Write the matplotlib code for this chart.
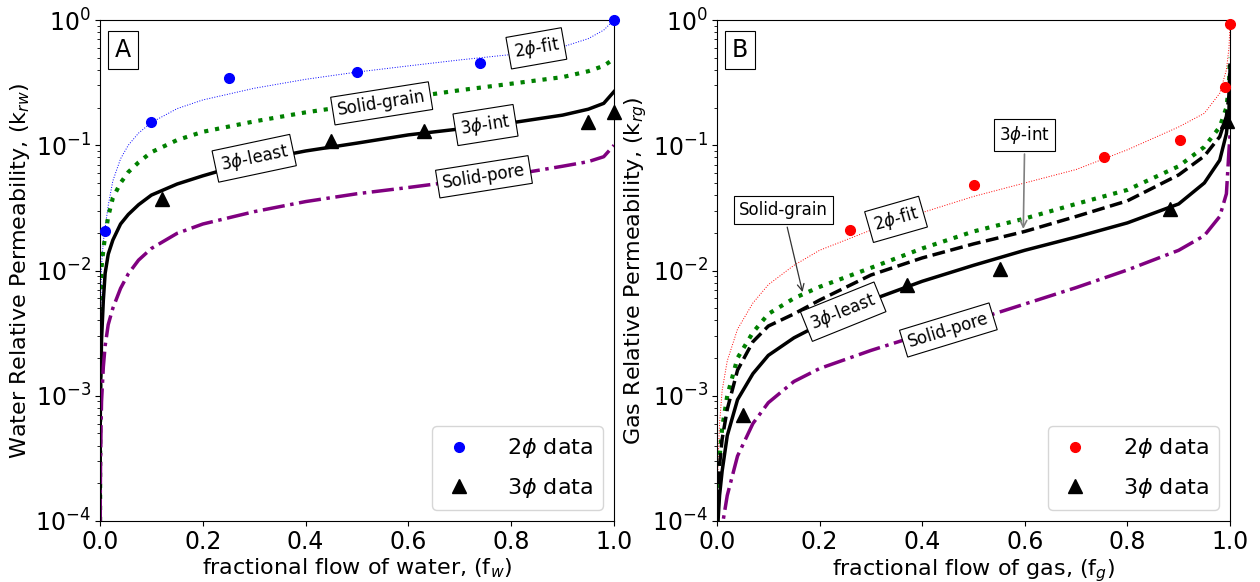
import numpy as np
import matplotlib
matplotlib.use("Agg")
import matplotlib.pyplot as plt

# ---------------- Panel A (water) ----------------
fw = [0.0002, 0.0005, 0.001, 0.002, 0.003, 0.0065, 0.01, 0.016, 0.025, 0.04, 0.055, 0.075,
      0.1, 0.15, 0.2, 0.3, 0.4, 0.5, 0.6, 0.7, 0.8, 0.9, 0.95, 0.98, 1.0]
krw_2fit = [1.5e-4, 0.0015, 0.003, 0.007, 0.011, 0.017, 0.022, 0.033, 0.052, 0.078, 0.1, 0.125,
            0.152, 0.196, 0.23, 0.285, 0.336, 0.384, 0.43, 0.48, 0.53, 0.61, 0.71, 0.83, 1.0]
krw_grain = [1e-4, 0.0019, 0.0043, 0.008, 0.0107, 0.0146, 0.019, 0.027, 0.038, 0.05, 0.061, 0.073,
             0.088, 0.11, 0.128, 0.155, 0.183, 0.21, 0.24, 0.275, 0.31, 0.35, 0.39, 0.43, 0.49]
krw_3least = [1e-4, 6e-4, 0.0011, 0.0017, 0.0028, 0.0058, 0.0095, 0.0135, 0.0175, 0.0235, 0.028, 0.0335,
              0.04, 0.049, 0.057, 0.075, 0.09, 0.104, 0.121, 0.135, 0.151, 0.174, 0.194, 0.216, 0.268]
krw_pore = [1e-4, 1.5e-4, 2.7e-4, 5.5e-4, 9e-4, 0.0017, 0.0025, 0.0037, 0.005, 0.0072, 0.0094, 0.0121,
            0.015, 0.0198, 0.0235, 0.0295, 0.0355, 0.041, 0.046, 0.052, 0.058, 0.068, 0.074, 0.081, 0.1]

fw_2data = [0.01, 0.1, 0.25, 0.5, 0.74, 1.0]
krw_2data = [0.0207, 0.152, 0.344, 0.384, 0.45, 1.0]
fw_3data = [0.12, 0.45, 0.63, 0.95, 1.0]
krw_3data = [0.037, 0.109, 0.13, 0.152, 0.185]

# ---------------- Panel B (gas) ----------------
fg = [0.0005, 0.002, 0.005, 0.01, 0.02, 0.04, 0.07, 0.1, 0.15, 0.2, 0.3, 0.4, 0.5,
      0.6, 0.7, 0.8, 0.9, 0.95, 0.98, 0.993, 0.998, 1.0]
krg_2fit = [1.2e-4, 3e-4, 6e-4, 0.0011, 0.0019, 0.0034, 0.0055, 0.0077, 0.011, 0.0145, 0.021, 0.029,
            0.039, 0.05, 0.064, 0.092, 0.14, 0.18, 0.26, 0.40, 0.6, 0.93]
krg_grain = [1e-4, 1.8e-4, 3.2e-4, 5.5e-4, 0.001, 0.002, 0.0032, 0.0045, 0.006, 0.0074, 0.0105, 0.015,
             0.0205, 0.026, 0.034, 0.044, 0.068, 0.097, 0.14, 0.2, 0.3, 0.5]
krg_3int = [1e-4, 1.5e-4, 2.8e-4, 4.5e-4, 7.8e-4, 0.0016, 0.0027, 0.0036, 0.0045, 0.0058, 0.0092, 0.0126,
            0.0163, 0.0205, 0.027, 0.036, 0.058, 0.082, 0.117, 0.17, 0.25, 0.45]
krg_3least = [6e-5, 1e-4, 1.6e-4, 2.5e-4, 4.8e-4, 9.3e-4, 0.0015, 0.0021, 0.0029, 0.0037, 0.0058, 0.0082,
              0.011, 0.0145, 0.0185, 0.024, 0.034, 0.05, 0.076, 0.124, 0.19, 0.4]
krg_pore = [2e-5, 4e-5, 6e-5, 9e-5, 1.6e-4, 3.3e-4, 6e-4, 8.8e-4, 0.0013, 0.00165, 0.0023, 0.0031,
            0.004, 0.0054, 0.0073, 0.0101, 0.0145, 0.019, 0.027, 0.041, 0.091, 0.12]

fg_2data = [0.26, 0.5, 0.754, 0.903, 0.99, 1.0]
krg_2data = [0.021, 0.048, 0.080, 0.111, 0.29, 0.93]
fg_3data = [0.05, 0.37, 0.552, 0.883, 0.995]
krg_3data = [0.0007, 0.0077, 0.0102, 0.031, 0.155]

plt.rcParams['font.family'] = ['DejaVu Sans']
plt.rcParams['mathtext.fontset'] = 'dejavusans'

fig = plt.figure(figsize=(12.6, 5.82), dpi=100)
axA = fig.add_axes([100/1260, 61/582, 514/1260, 501/582])
axB = fig.add_axes([717/1260, 61/582, 513/1260, 501/582])

lw = 2.5
box = dict(boxstyle='square,pad=0.3', fc='white', ec='black', lw=0.8)
TFS = 12

# Panel A
axA.plot(fw, krw_2fit, color='blue', ls=':', lw=0.7)
axA.plot(fw, krw_grain, color='green', ls=':', lw=3)
axA.plot(fw, krw_3least, color='black', ls='-', lw=lw)
axA.plot(fw, krw_pore, color='purple', ls='-.', lw=lw)
axA.plot(fw_2data, krw_2data, 'o', color='blue', ms=7, clip_on=False, zorder=5, label=r'2$\phi$ data')
axA.plot(fw_3data, krw_3data, '^', color='black', ms=10, clip_on=False, zorder=5, label=r'3$\phi$ data')

axA.text(0.849, 0.594, r'2$\phi$-fit', rotation=10, ha='center', va='center', fontsize=TFS, bbox=box, zorder=6)
axA.text(0.548, 0.216, 'Solid-grain', rotation=9, ha='center', va='center', fontsize=TFS, bbox=box, zorder=6)
axA.text(0.75, 0.145, r'3$\phi$-int', rotation=9, ha='center', va='center', fontsize=TFS, bbox=box, zorder=6)
axA.text(0.30, 0.0787, r'3$\phi$-least', rotation=12, ha='center', va='center', fontsize=TFS, bbox=box, zorder=6)
axA.text(0.747, 0.056, 'Solid-pore', rotation=9, ha='center', va='center', fontsize=TFS, bbox=box, zorder=6)
axA.text(0.045, 0.94, 'A', transform=axA.transAxes, ha='center', va='center', fontsize=17,
         bbox=dict(boxstyle='square,pad=0.3', fc='white', ec='black', lw=0.8))

# Panel B
axB.plot(fg, krg_2fit, color='red', ls=':', lw=0.7)
axB.plot(fg, krg_grain, color='green', ls=':', lw=3)
axB.plot(fg, krg_3int, color='black', ls='--', lw=lw)
axB.plot(fg, krg_3least, color='black', ls='-', lw=lw)
axB.plot(fg, krg_pore, color='purple', ls='-.', lw=lw)
axB.plot(fg_2data, krg_2data, 'o', color='red', ms=7, clip_on=False, zorder=5, label=r'2$\phi$ data')
axB.plot(fg_3data, krg_3data, '^', color='black', ms=10, clip_on=False, zorder=5, label=r'3$\phi$ data')

axB.annotate(r'3$\phi$-int', xy=(0.597, 0.0204), xytext=(0.60, 0.121), ha='center', va='center',
             fontsize=TFS, bbox=box, zorder=6,
             arrowprops=dict(arrowstyle='->', color='gray', lw=1.2))
axB.annotate('Solid-grain', xy=(0.168, 0.0064), xytext=(0.129, 0.0304), ha='center', va='center',
             fontsize=TFS, bbox=box, zorder=6,
             arrowprops=dict(arrowstyle='->', color='#333333', lw=0.9))
axB.text(0.349, 0.0256, r'2$\phi$-fit', rotation=16, ha='center', va='center', fontsize=TFS, bbox=box, zorder=6)
axB.text(0.246, 0.00469, r'3$\phi$-least', rotation=22, ha='center', va='center', fontsize=TFS, bbox=box, zorder=6)
axB.text(0.451, 0.00335, 'Solid-pore', rotation=17, ha='center', va='center', fontsize=TFS, bbox=box, zorder=6)
axB.text(0.045, 0.94, 'B', transform=axB.transAxes, ha='center', va='center', fontsize=17,
         bbox=dict(boxstyle='square,pad=0.3', fc='white', ec='black', lw=0.8))

for ax in (axA, axB):
    ax.set_yscale('log')
    ax.set_xlim(0, 1)
    ax.set_ylim(1e-4, 1)
    ax.tick_params(labelsize=17, pad=3)
    ax.legend(loc='lower right', fontsize=16, handlelength=1.5, handletextpad=1.4,
              labelspacing=0.7, borderpad=0.45, borderaxespad=0.5)

axA.set_xlabel(r'fractional flow of water, (f$_w$)', fontsize=16, labelpad=2)
axA.set_ylabel(r'Water Relative Permeability, (k$_{rw}$)', fontsize=16, labelpad=2)
axB.set_xlabel(r'fractional flow of gas, (f$_g$)', fontsize=16, labelpad=2)
axB.set_ylabel(r'Gas Relative Permeability, (k$_{rg}$)', fontsize=16, labelpad=2)

fig.savefig('out.png', dpi=100)
